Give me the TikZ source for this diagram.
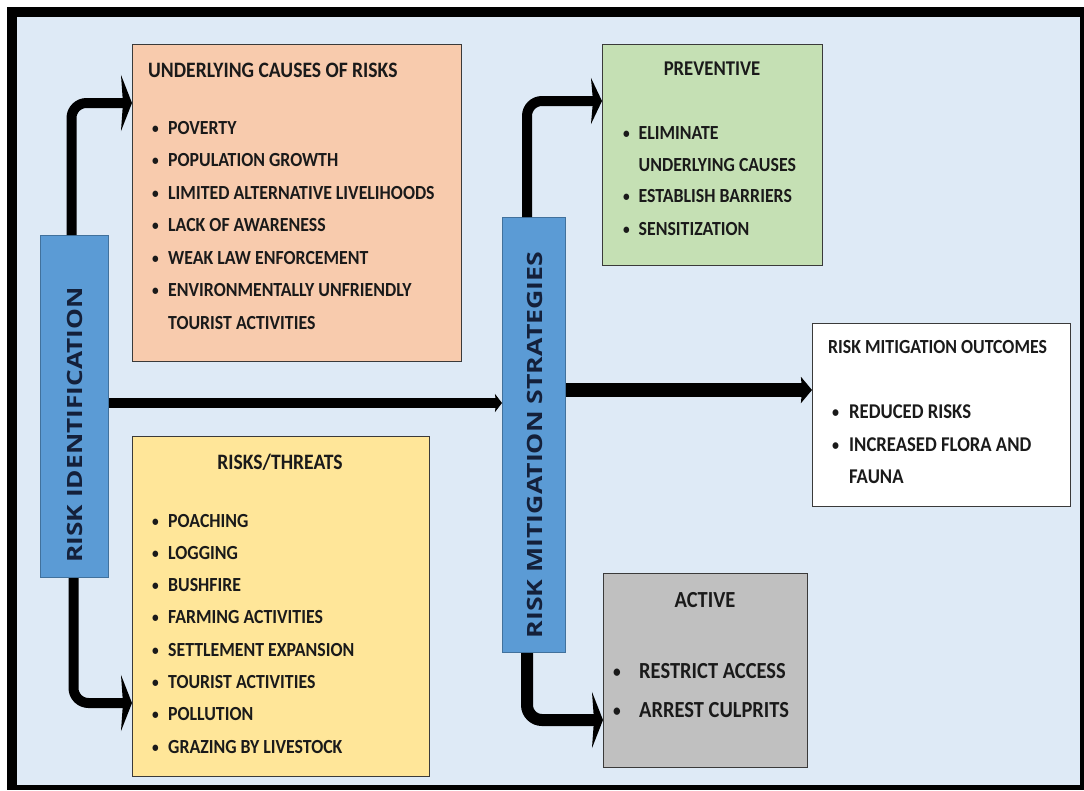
\documentclass[tikz,border=0pt]{standalone}
\usepackage{fontspec}
\setmainfont{Carlito}[FakeStretch=0.89]
\newfontfamily\sidefont{Open Sans}
\usetikzlibrary{arrows.meta}

\definecolor{bgblue}{HTML}{DEEAF6}
\definecolor{sideblue}{HTML}{5B9BD5}
\definecolor{sideline}{HTML}{41719C}
\definecolor{sidetext}{HTML}{14203A}
\definecolor{causefill}{HTML}{F8CBAD}
\definecolor{threatfill}{HTML}{FFE699}
\definecolor{prevfill}{HTML}{C5E0B4}
\definecolor{activefill}{HTML}{C0C0C0}
\definecolor{boxline}{HTML}{3A3A3A}
\definecolor{inktext}{HTML}{1A1A1A}

\newcommand{\bul}[1][16pt]{\makebox[#1][l]{\raisebox{1pt}{\scalebox{0.75}{•}}}}

\tikzset{
  box/.style={draw=boxline, line width=1pt, anchor=north west, inner sep=0pt},
  sidebox/.style={box, draw=sideline, fill=sideblue},
  sidelabel/.style={inner sep=0pt, rotate=90, text=sidetext,
    font=\fontsize{21}{21}\sidefont\bfseries},
  item/.style={anchor=base west, inner sep=0pt, text=inktext,
    font=\fontsize{20}{20}\selectfont\bfseries},
  title/.style={item, font=\fontsize{22}{22}\selectfont\bfseries},
  flow/.style={line width=10pt, color=black, rounded corners=15pt,
    -{Stealth[length=11pt, width=56pt, inset=2pt]}},
}

\begin{document}
\begin{tikzpicture}[x=1pt, y=-1pt]
  \useasboundingbox (0,0) rectangle (1084,790);
  % frame
  \fill[black] (7,7) rectangle (1084,790);
  \fill[bgblue] (17,17) rectangle (1080,785);

  % boxes
  \node[sidebox, minimum width=68pt, minimum height=342pt] (riskid) at (40,235) {};
  \node[sidelabel] (riskidlabel) at (75,425) {\scalebox{1.25}[1]{RISK IDENTIFICATION}};
  \node[sidebox, minimum width=63pt, minimum height=435pt] (rms) at (502,217) {};
  \node[sidelabel] (rmslabel) at (535,445) {\scalebox{1.27}[1]{RISK MITIGATION STRATEGIES}};
  \node[box, fill=causefill, minimum width=329pt, minimum height=317pt] (causes) at (132,44) {};
  \node[box, fill=threatfill, minimum width=297pt, minimum height=340pt] (threats) at (132,436) {};
  \node[box, fill=prevfill, minimum width=220pt, minimum height=221pt] (preventive) at (602,44) {};
  \node[box, fill=activefill, minimum width=204pt, minimum height=194pt] (active) at (603,573) {};
  \node[box, fill=white, minimum width=258pt, minimum height=183pt] (outcomes) at (812,323) {};

  % underlying causes
  \node[title] (causestitle) at (148,77) {UNDERLYING CAUSES OF RISKS};
  \foreach \txt [count=\i from 0] in {POVERTY, POPULATION GROWTH,
      LIMITED ALTERNATIVE LIVELIHOODS, LACK OF AWARENESS,
      WEAK LAW ENFORCEMENT, ENVIRONMENTALLY UNFRIENDLY}
    \node[item] (cause\i) at (152,{134+32.5*\i}) {\bul\txt};
  \node[item] (cause6) at (168,329) {TOURIST ACTIVITIES};

  % risks/threats
  \node[title, anchor=base] (threatstitle) at (280,469) {RISKS/THREATS};
  \foreach \txt [count=\i from 0] in {POACHING, LOGGING, BUSHFIRE,
      FARMING ACTIVITIES, SETTLEMENT EXPANSION, TOURIST ACTIVITIES,
      POLLUTION, GRAZING BY LIVESTOCK}
    \node[item] (threat\i) at (152,{527+32.3*\i}) {\bul\txt};

  % preventive
  \node[item, anchor=base, font=\fontsize{21}{21}\selectfont\bfseries] (prevtitle) at (712,75) {PREVENTIVE};
  \node[item] (prev0) at (623,139) {\bul[15.5pt]ELIMINATE};
  \node[item] (prev1) at (638.5,171) {UNDERLYING CAUSES};
  \node[item] (prev2) at (623,202) {\bul[15.5pt]ESTABLISH BARRIERS};
  \node[item] (prev3) at (623,235) {\bul[15.5pt]SENSITIZATION};

  % outcomes
  \node[item] (outtitle) at (828,353) {RISK MITIGATION OUTCOMES};
  \node[item, font=\fontsize{21}{21}\selectfont\bfseries] (out0) at (832,418) {\bul[17pt]REDUCED RISKS};
  \node[item, font=\fontsize{21}{21}\selectfont\bfseries] (out1) at (832,451) {\bul[17pt]INCREASED FLORA AND};
  \node[item, font=\fontsize{21}{21}\selectfont\bfseries] (out2) at (849,483) {FAUNA};

  % active
  \node[item, anchor=base, font=\fontsize{23}{23}\selectfont\bfseries] (acttitle) at (705,607) {ACTIVE};
  \node[item, font=\fontsize{23}{23}\selectfont\bfseries] (act0) at (613,678) {\bul[26pt]RESTRICT ACCESS};
  \node[item, font=\fontsize{23}{23}\selectfont\bfseries] (act1) at (613,717) {\bul[26pt]ARREST CULPRITS};

  % connectors
  \draw[flow] ([xshift=-3pt]riskid.north) |- (causes.west |- 0,103);
  \draw[flow] ([xshift=-1pt]riskid.south) |- (threats.west |- 0,703);
  \draw[flow, -{Stealth[length=7pt, width=18pt, inset=1pt]}] (riskid.east |- 0,403) -- (rms.west |- 0,403);
  \draw[flow, line width=14pt, -{Stealth[length=11pt, width=26pt, inset=1pt]}] (rms.east |- 0,390) -- (outcomes.west |- 0,390);
  \draw[flow, -{Stealth[length=11pt, width=46pt, inset=2pt]}] ([xshift=-7pt]rms.north) |- (preventive.west |- 0,101);
  \draw[flow, line width=12pt] ([xshift=-7pt]rms.south) |- (active.west |- 0,720);
\end{tikzpicture}
\end{document}
